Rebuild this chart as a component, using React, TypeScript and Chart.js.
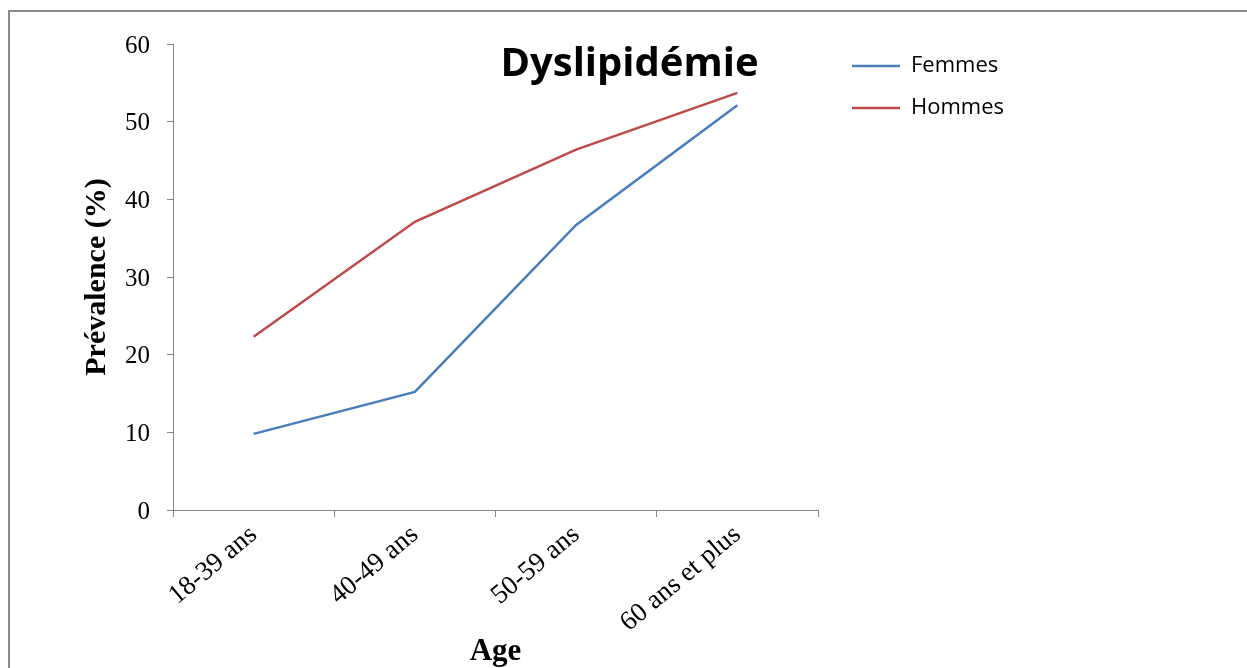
import React, { useEffect, useRef } from "react";
import { Chart, registerables } from "chart.js";

Chart.register(...registerables);

// ---- data ----
const categories = ["18-39 ans", "40-49 ans", "50-59 ans", "60 ans et plus"];
const femmes = [9.8, 15.2, 36.7, 52.1];
const hommes = [22.3, 37.1, 46.4, 53.7];
const seriesLabels = ["Femmes", "Hommes"];
const yMin = 0;
const yMax = 60;
const yStep = 10;
const chartTitle = "Dyslipidémie";
const xTitle = "Age";
const yTitle = "Prévalence (%)";

// ---- layout ----
const W = 1247;
const H = 668;
const PAD_LEFT = 12;
const PAD_TOP = 35;
const PLOT_LEFT = 173;
const PLOT_RIGHT = 818;
const PLOT_BOTTOM = 510;
const LEGEND_GAP = 14;
const AXIS_GRAY = "#868686";
const SERIF = "'Liberation Serif', 'Times New Roman', serif";
const SANS = "'Open Sans', 'Noto Sans', sans-serif";

export default function App() {
  const ref = useRef<HTMLCanvasElement | null>(null);

  useEffect(() => {
    if (!ref.current) return;
    // invisible spacer axes: only reserve horizontal room around the legend
    const spacer = (w: (s: any) => number, weight: number) => ({
      type: "linear" as const,
      position: "right" as const,
      display: false,
      weight,
      afterFit: (s: any) => {
        s.width = w(s);
      },
    });
    const chart = new Chart(ref.current, {
      type: "line",
      data: {
        labels: categories,
        datasets: [
          {
            label: seriesLabels[0],
            data: femmes,
            borderColor: "#4A7EBB",
            backgroundColor: "#4A7EBB",
            borderWidth: 2.5,
            pointRadius: 0,
            tension: 0,
            fill: false,
            xAxisID: "x",
            yAxisID: "y",
          },
          {
            label: seriesLabels[1],
            data: hommes,
            borderColor: "#BE4B48",
            backgroundColor: "#BE4B48",
            borderWidth: 2.5,
            pointRadius: 0,
            tension: 0,
            fill: false,
            xAxisID: "x",
            yAxisID: "y",
          },
        ],
      },
      options: {
        responsive: false,
        animation: false,
        layout: { padding: { top: PAD_TOP, left: PAD_LEFT, right: 0, bottom: 0 } },
        plugins: {
          tooltip: { enabled: false },
          title: {
            display: true,
            text: chartTitle,
            color: "#000",
            font: { family: SANS, size: 40, weight: "bold", lineHeight: "40px" },
            padding: { top: 10, bottom: -41 },
          },
          legend: {
            display: true,
            position: "right",
            align: "start",
            labels: {
              usePointStyle: true,
              pointStyle: "line",
              pointStyleWidth: 48,
              padding: 20,
              color: "#000",
              font: { family: SANS, size: 22 },
            },
          },
        },
        scales: {
          x: {
            type: "category",
            offset: true,
            grid: {
              display: true,
              drawOnChartArea: false,
              drawTicks: true,
              tickLength: 7,
              color: AXIS_GRAY,
              offset: true,
            },
            border: { display: true, color: AXIS_GRAY, width: 1 },
            ticks: {
              color: "#000",
              font: { family: SERIF, size: 27 },
              minRotation: 40,
              maxRotation: 40,
              autoSkip: false,
              padding: 2,
            },
            title: {
              display: true,
              text: xTitle,
              color: "#000",
              font: { family: SERIF, size: 31, weight: "bold" },
              padding: { top: 0, bottom: -3 },
            },
            afterFit: (s: any) => {
              s.height = H - PLOT_BOTTOM;
            },
          },
          y: {
            type: "linear",
            position: "left",
            min: yMin,
            max: yMax,
            ticks: {
              stepSize: yStep,
              color: "#000",
              font: { family: SERIF, size: 25 },
              padding: 17,
              labelOffset: 2,
            },
            grid: {
              display: true,
              drawOnChartArea: false,
              drawTicks: true,
              tickLength: 6,
              color: AXIS_GRAY,
            },
            border: { display: true, color: AXIS_GRAY, width: 1 },
            title: {
              display: true,
              text: yTitle,
              color: "#000",
              font: { family: SERIF, size: 30, weight: "bold" },
              padding: { top: 67, bottom: 0 },
            },
            afterFit: (s: any) => {
              s.width = PLOT_LEFT - PAD_LEFT;
            },
          },
          gap: spacer(() => LEGEND_GAP, 0),
          fill: spacer(
            (s: any) => Math.max(0, W - PLOT_RIGHT - LEGEND_GAP - (s.chart.legend ? s.chart.legend.width : 0)),
            2000
          ),
        },
      } as any,
    });
    return () => chart.destroy();
  }, []);

  return (
    <div
      style={{
        position: "fixed",
        left: 0,
        top: 0,
        width: W,
        height: H,
        overflow: "hidden",
        background: "#fff",
      }}
    >
      <div
        style={{
          position: "absolute",
          left: 8,
          top: 10,
          width: W + 40,
          height: H + 40,
          borderTop: `2px solid #8a8a8a`,
          borderLeft: `2px solid #8a8a8a`,
        }}
      />
      <canvas
        ref={ref}
        width={W}
        height={H}
        style={{ position: "absolute", left: 0, top: 0, width: W, height: H }}
      />
    </div>
  );
}
